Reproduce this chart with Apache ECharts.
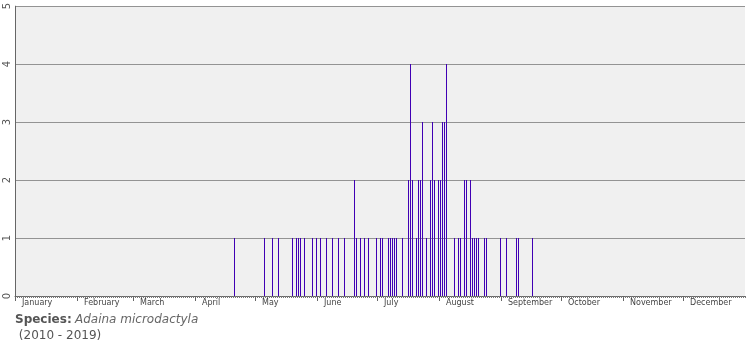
<!DOCTYPE html>
<html>
<head>
<meta charset="utf-8">
<script src="https://cdn.jsdelivr.net/npm/echarts@6/dist/echarts.min.js"></script>
<style>
  html, body { margin: 0; padding: 0; background: #fff; }
  #chart { width: 755px; height: 350px; }
</style>
</head>
<body>
<div id="chart"></div>
<script>
  // day of year (1..365) and number of records that day
  var days = [110, 125, 129, 132, 139, 141, 142, 143, 145, 149, 151, 153, 156, 159, 162, 165,
    170, 171, 173, 175, 177, 181, 183, 184, 187, 188, 189, 190, 191, 194,
    197, 198, 199, 201, 202, 203, 204, 206, 208, 209, 210, 212, 213, 214, 215, 216,
    220, 222, 223, 225, 226, 228, 229, 230, 231, 232, 235, 236, 243, 246, 251, 252, 259];
  var counts = [1, 1, 1, 1, 1, 1, 1, 1, 1, 1, 1, 1, 1, 1, 1, 1,
    2, 1, 1, 1, 1, 1, 1, 1, 1, 1, 1, 1, 1, 1,
    2, 4, 2, 1, 2, 2, 3, 1, 2, 3, 2, 2, 2, 3, 3, 4,
    1, 1, 1, 2, 2, 2, 1, 1, 1, 1, 1, 1, 1, 1, 1, 1, 1];
  var months = ['January', 'February', 'March', 'April', 'May', 'June', 'July',
    'August', 'September', 'October', 'November', 'December'];
  var monthStart = [1, 32, 60, 91, 121, 152, 182, 213, 244, 274, 305, 335];
  var yTicks = [0, 1, 2, 3, 4, 5];

  var barColor = '#4000b4';

  var data = days.map(function (d, i) { return [d, counts[i]]; });

  var dayTicks = [];
  for (var k = 0; k <= 365; k++) dayTicks.push(k + 0.5);
  var monthTicks = monthStart.map(function (d) { return d - 0.5; });
  var labelPos = monthStart.map(function (d) { return d + 3; });

  var chart = echarts.init(document.getElementById('chart'));
  var option = {
    animation: false,
    grid: {
      left: 15, right: 10, top: 5, bottom: 54,
      show: true, backgroundColor: '#f0f0f0', borderWidth: 0
    },
    xAxis: [{
      type: 'value', min: 0.5, max: 365.5, position: 'bottom',
      axisLine: { show: true, lineStyle: { color: '#666', width: 1 } },
      axisTick: { show: true, customValues: dayTicks, length: 2, lineStyle: { color: '#777' } },
      axisLabel: { show: false },
      splitLine: { show: false }
    }, {
      type: 'value', min: 0.5, max: 365.5, position: 'bottom',
      axisLine: { show: false },
      axisTick: { show: true, customValues: monthTicks, length: 5, lineStyle: { color: '#666' } },
      axisLabel: {
        show: true, customValues: labelPos, align: 'left', margin: 3,
        fontFamily: 'DejaVu Sans', fontSize: 8, color: '#444',
        formatter: function (v) { return months[labelPos.indexOf(v)]; }
      },
      splitLine: { show: false }
    }],
    yAxis: {
      type: 'value', min: 0, max: 5, interval: 1,
      axisLine: { show: true, lineStyle: { color: '#666', width: 1 } },
      axisTick: { show: false },
      axisLabel: {
        rotate: 90, margin: 3, fontFamily: 'DejaVu Sans', fontSize: 10, color: '#555',
        formatter: function (v) { return yTicks.indexOf(v) >= 0 ? String(v) : ''; }
      },
      splitLine: { show: true, lineStyle: { color: '#939393', width: 1 } }
    },
    series: [{
      type: 'custom',
      xAxisIndex: 0,
      data: data,
      renderItem: function (params, api) {
        var top = api.coord([api.value(0), api.value(1)]);
        var base = api.coord([api.value(0), 0]);
        var y0 = Math.round(top[1]);
        return {
          type: 'rect',
          shape: { x: Math.floor(top[0]), y: y0, width: 1, height: Math.round(base[1]) - y0 },
          style: { fill: barColor }
        };
      }
    }],
    graphic: [
      { type: 'text', left: 15, top: 314,
        style: { text: 'Species:', font: 'bold 12px "DejaVu Sans"', fill: '#555' } },
      { type: 'text', left: 75, top: 314,
        style: { text: 'Adaina microdactyla', font: 'italic 12px "DejaVu Sans"', fill: '#666' } },
      { type: 'text', left: 15, top: 330,
        style: { text: ' (2010 - 2019)', font: '12px "DejaVu Sans"', fill: '#555' } }
    ]
  };
  chart.setOption(option);
</script>
</body>
</html>
